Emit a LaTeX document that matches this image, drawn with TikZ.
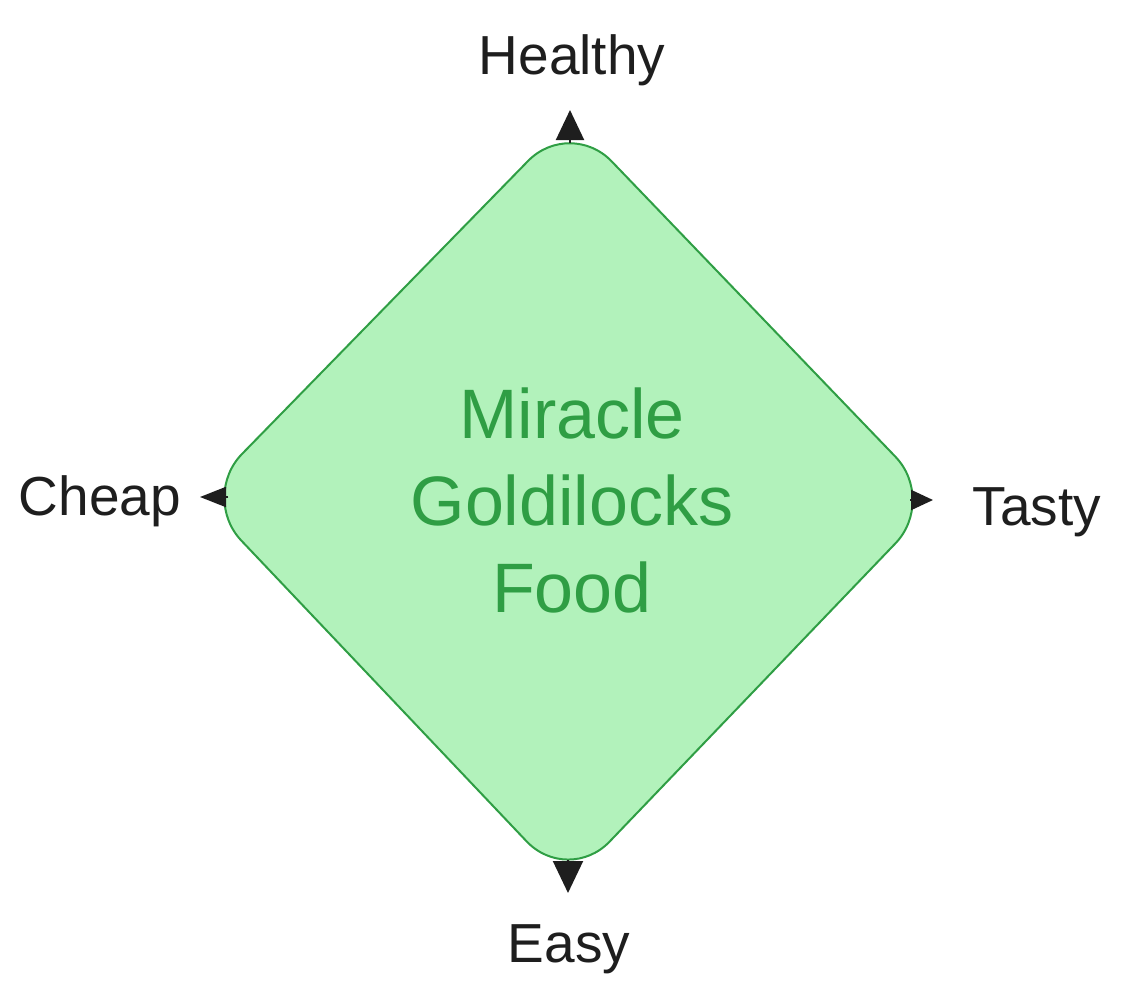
\documentclass[tikz,border=0pt]{standalone}
\usepackage{fontspec}
\setmainfont{Liberation Sans}
\usetikzlibrary{arrows.meta,calc}
\definecolor{fillg}{HTML}{B2F2BB}
\definecolor{strokeg}{HTML}{2F9E44}
\definecolor{ink}{HTML}{1E1E1E}
\begin{document}
\begin{tikzpicture}[x=1pt,y=-1pt,
  lbl/.style={text=ink,font=\fontsize{55}{66}\selectfont,anchor=base,inner sep=0pt},
  mid/.style={text=strokeg,font=\fontsize{70}{87}\selectfont,align=center,inner sep=0pt},
  axisarrow/.style={draw=ink,fill=ink,line width=2pt}]
\useasboundingbox (0,0) rectangle (1144,1001);
% diamond
\coordinate (vT) at (570,118);
\coordinate (vR) at (937,500);
\coordinate (vB) at (568,885);
\coordinate (vL) at (200,497);
\draw[draw=strokeg,fill=fillg,line width=2pt,rounded corners=60pt]
  ($(vT)!0.5!(vR)$) -- (vR) -- (vB) -- (vL) -- (vT) -- cycle;
% apex points and arrow tips
\coordinate (aT) at (570,143);
\coordinate (tT) at (570,110);
\coordinate (aR) at (910,500);
\coordinate (tR) at (933,500);
\coordinate (aB) at (568,860);
\coordinate (tB) at (568,893);
\coordinate (aL) at (228,497);
\coordinate (tL) at (200,497);
\draw[axisarrow,-{Triangle[length=30pt,width=28pt]}] (aT) -- (tT);
\draw[axisarrow,-{Triangle[length=22pt,width=20pt]}] (aR) -- (tR);
\draw[axisarrow,-{Triangle[length=32pt,width=30pt]}] (aB) -- (tB);
\draw[axisarrow,-{Triangle[length=26pt,width=20pt]}] (aL) -- (tL);
% labels
\node[lbl] (healthy) at (572,74) {Healthy};
\node[lbl] (cheap) at (100,515) {Cheap};
\node[lbl] (tasty) at (1037,525) {Tasty};
\node[lbl] (easy) at (569,962) {Easy};
\node[mid] (center) at (572,500) {Miracle\\Goldilocks\\Food};
\end{tikzpicture}
\end{document}
